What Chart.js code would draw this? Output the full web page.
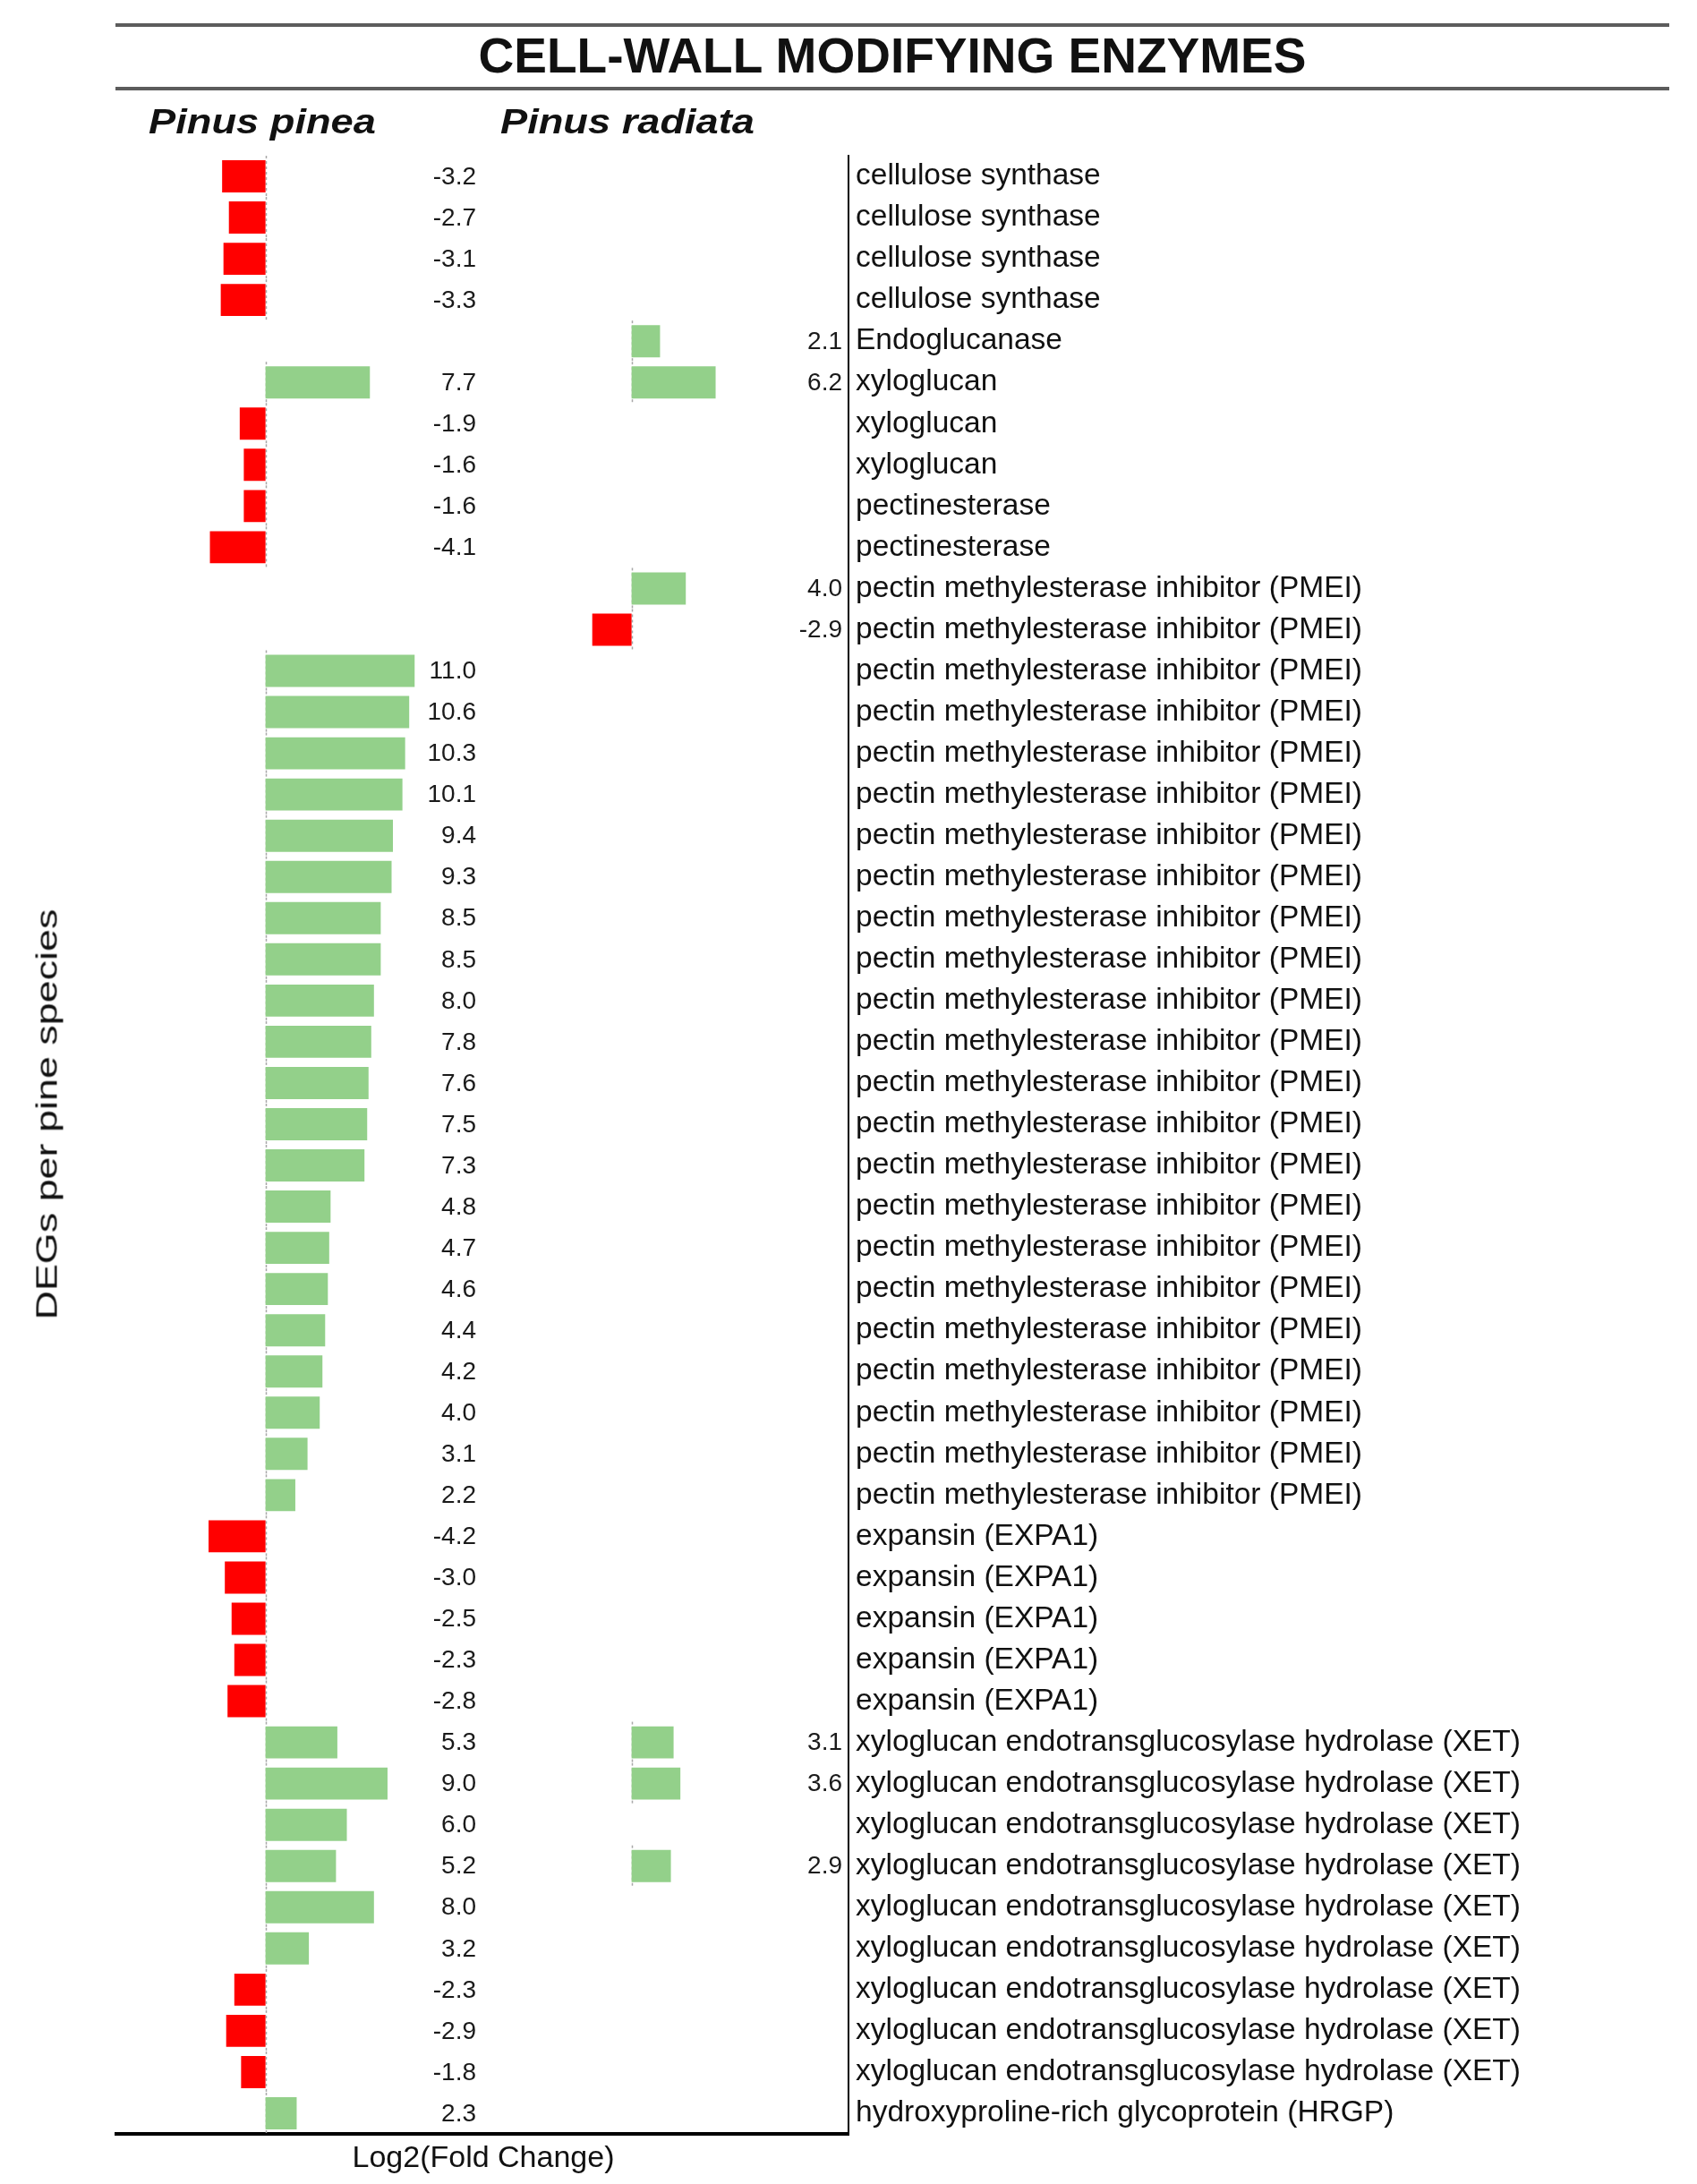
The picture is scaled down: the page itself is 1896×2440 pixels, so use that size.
<!DOCTYPE html>
<html>
<head>
<meta charset="utf-8">
<title>Cell-wall modifying enzymes</title>
<script src="https://cdn.jsdelivr.net/npm/chart.js@4.4.0/dist/chart.umd.min.js"></script>
<style>
  html, body { margin: 0; padding: 0; background: #fff; }
  body {
    width: 1896px; height: 2440px; position: relative; overflow: hidden;
    font-family: "Liberation Sans", Arial, sans-serif; color: #111;
  }
  #chart { position: absolute; left: 0; top: 0; }
  .rule { position: absolute; left: 129px; width: 1736px; height: 4px; background: #5c5c5c; }
  #title {
    position: absolute; left: 129px; width: 1736px; top: 35px;
    text-align: center; font-weight: bold; font-size: 55px; line-height: 55px; white-space: nowrap;
  }
  .species {
    position: absolute; top: 117px; font-weight: bold; font-style: italic;
    font-size: 38px; line-height: 38px; white-space: nowrap;
    transform: translateX(-50%) scaleX(1.19);
  }
  #ytitle {
    position: absolute; left: 52px; top: 1245px; font-size: 33px; line-height: 33px; white-space: nowrap;
    transform: translate(-50%, -50%) rotate(-90deg) scaleX(1.36);
  }
  #xtitle {
    position: absolute; left: 540px; top: 2392px; font-size: 34px; line-height: 34px; white-space: nowrap;
    transform: translateX(-50%);
  }
</style>
</head>
<body>
<canvas id="chart" width="1896" height="2440"></canvas>
<div class="rule" style="top:26px"></div>
<div id="title">CELL-WALL MODIFYING ENZYMES</div>
<div class="rule" style="top:97px"></div>
<div class="species" style="left:293px">Pinus pinea</div>
<div class="species" style="left:701px">Pinus radiata</div>
<div id="ytitle">DEGs per pine species</div>
<div id="xtitle">Log2(Fold Change)</div>

<script>
const PMEI = 'pectin methylesterase inhibitor (PMEI)';
const XET = 'xyloglucan endotransglucosylase hydrolase (XET)';
const EXPA = 'expansin (EXPA1)';

// one row per differentially expressed gene, top to bottom
const categories = [
    'cellulose synthase', 'cellulose synthase', 'cellulose synthase', 'cellulose synthase',
    'Endoglucanase',
    'xyloglucan', 'xyloglucan', 'xyloglucan',
    'pectinesterase', 'pectinesterase',
    PMEI, PMEI, PMEI, PMEI, PMEI, PMEI, PMEI, PMEI, PMEI, PMEI, PMEI, PMEI,
    PMEI, PMEI, PMEI, PMEI, PMEI, PMEI, PMEI, PMEI, PMEI, PMEI, PMEI,
    EXPA, EXPA, EXPA, EXPA, EXPA,
    XET, XET, XET, XET, XET, XET, XET, XET, XET,
    'hydroxyproline-rich glycoprotein (HRGP)'
];

// log2 fold change, null = not differentially expressed in that species
const pineaValues = [
    -3.2, -2.7, -3.1, -3.3,
    null,
    7.7, -1.9, -1.6,
    -1.6, -4.1,
    null, null, 11.0, 10.6, 10.3, 10.1, 9.4, 9.3, 8.5, 8.5, 8.0, 7.8,
    7.6, 7.5, 7.3, 4.8, 4.7, 4.6, 4.4, 4.2, 4.0, 3.1, 2.2,
    -4.2, -3.0, -2.5, -2.3, -2.8,
    5.3, 9.0, 6.0, 5.2, 8.0, 3.2, -2.3, -2.9, -1.8,
    2.3
];

const radiataValues = [
    null, null, null, null,
    2.1,
    6.2, null, null,
    null, null,
    4.0, -2.9, null, null, null, null, null, null, null, null, null, null,
    null, null, null, null, null, null, null, null, null, null, null,
    null, null, null, null, null,
    3.1, 3.6, null, 2.9, null, null, null, null, null,
    null
];

const xMin = -11;
const xMax = 16;

const FONT = '"Liberation Sans", Arial, sans-serif';
const UP = '#93d08a';
const DOWN = '#ff0000';

function barColor(ctx) {
    return ctx.raw < 0 ? DOWN : UP;
}

// faint dotted zero line beside every bar, as in the original sheet
const zeroTicks = {
    id: 'zeroTicks',
    beforeDatasetsDraw(chart) {
        const ctx = chart.ctx;
        const yScale = chart.scales.y;
        const band = (yScale.bottom - yScale.top) / categories.length;
        ctx.save();
        ctx.strokeStyle = '#a8a8a8';
        ctx.lineWidth = 1.5;
        ctx.setLineDash([3, 3]);
        chart.data.datasets.forEach((ds) => {
            const x0 = Math.round(chart.scales[ds.xAxisID].getPixelForValue(0)) + 0.5;
            ds.data.forEach((v, j) => {
                if (v === null || v === undefined)
                    return;
                const yc = yScale.getPixelForValue(j);
                ctx.beginPath();
                ctx.moveTo(x0, yc - band / 2);
                ctx.lineTo(x0, yc + band / 2);
                ctx.stroke();
            });
        });
        ctx.restore();
    }
};

// numbers printed at the right edge of each species column
const valueLabels = {
    id: 'valueLabels',
    afterDatasetsDraw(chart) {
        const ctx = chart.ctx;
        ctx.save();
        ctx.font = '28px ' + FONT;
        ctx.fillStyle = '#1a1a1a';
        ctx.textAlign = 'right';
        ctx.textBaseline = 'middle';
        chart.data.datasets.forEach((ds, i) => {
            const meta = chart.getDatasetMeta(i);
            const xScale = chart.scales[ds.xAxisID];
            meta.data.forEach((bar, j) => {
                const v = ds.data[j];
                if (v === null || v === undefined)
                    return;
                ctx.fillText(v.toFixed(1), xScale.right - 7, bar.y + 1);
            });
        });
        ctx.restore();
    }
};

function speciesAxis() {
    return {
        type: 'linear',
        position: 'bottom',
        stack: 'species',
        min: xMin,
        max: xMax,
        grid: { display: false },
        ticks: { display: false },
        border: { display: true, color: '#000', width: 4 }
    };
}

const canvas = document.getElementById('chart');
new Chart(canvas, {
    type: 'bar',
    data: {
        labels: categories,
        datasets: [
            {
                label: 'Pinus pinea',
                data: pineaValues,
                xAxisID: 'x1',
                backgroundColor: barColor
            },
            {
                label: 'Pinus radiata',
                data: radiataValues,
                xAxisID: 'x2',
                backgroundColor: barColor
            }
        ]
    },
    options: {
        indexAxis: 'y',
        responsive: false,
        animation: false,
        devicePixelRatio: 1,
        layout: { padding: { left: 130, top: 174, right: 0, bottom: 48 } },
        datasets: {
            bar: { grouped: false, barPercentage: 0.78, categoryPercentage: 1, borderWidth: 0 }
        },
        plugins: {
            legend: { display: false },
            tooltip: { enabled: false },
            title: { display: false }
        },
        scales: {
            x1: speciesAxis(),
            x2: speciesAxis(),
            y: {
                type: 'category',
                position: 'right',
                grid: { display: false },
                border: { display: true, color: '#000', width: 2 },
                ticks: {
                    autoSkip: false,
                    padding: 0,
                    color: '#111',
                    font: { family: FONT, size: 33.5 }
                },
                afterFit(scale) {
                    scale.width = 948;
                }
            }
        }
    },
    plugins: [zeroTicks, valueLabels]
});
</script>
</body>
</html>
